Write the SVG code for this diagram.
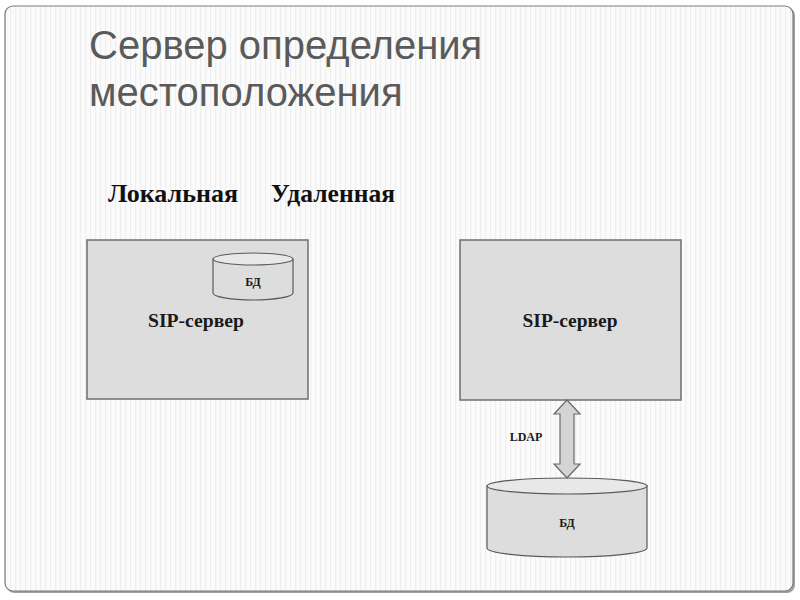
<svg xmlns="http://www.w3.org/2000/svg" width="800" height="600" viewBox="0 0 800 600">
  <defs>
    <pattern id="stripes" x="0" y="0" width="5" height="10" patternUnits="userSpaceOnUse">
      <rect width="5" height="10" fill="#fbfbfb"/>
      <rect x="0" width="1.2" height="10" fill="#efefef"/>
    </pattern>
    <style>
      .title { font-family: "Liberation Sans", Arial, sans-serif; font-size: 40px; fill: #5a5a5a; }
      .head { font-family: "Liberation Serif", "Times New Roman", serif; font-weight: bold; font-size: 25px; fill: #111; }
      .lbl { font-family: "Liberation Serif", "Times New Roman", serif; font-weight: bold; fill: #1a1a1a; text-anchor: middle; }
      .box { fill: #dddddd; stroke: #6e6e6e; stroke-width: 1.5; }
      .cyl { fill: #dddddd; stroke: #5a5a5a; stroke-width: 1.2; }
      .cyltop { fill: #e8e8e8; stroke: #5a5a5a; stroke-width: 1.2; }
    </style>
  </defs>
  <rect width="800" height="600" fill="#ffffff"/>
  <rect x="6.5" y="7.5" width="788.5" height="585.5" rx="8" fill="#a0a0a0"/>
  <rect x="5" y="6" width="788" height="585" rx="8" fill="url(#stripes)" stroke="#7a7a7a" stroke-width="1.2"/>

  <text class="title" x="89" y="59">Сервер определения</text>
  <text class="title" x="89" y="106">местоположения</text>

  <text class="head" x="108" y="202" textLength="130" lengthAdjust="spacingAndGlyphs">Локальная</text>
  <text class="head" x="271" y="202" textLength="124" lengthAdjust="spacingAndGlyphs">Удаленная</text>

  <g id="local-server">
    <rect class="box" x="87" y="240" width="221" height="159"/>
    <text class="lbl" x="196" y="327" font-size="18" textLength="96" lengthAdjust="spacingAndGlyphs">SIP-сервер</text>
  </g>
  <g id="local-db">
    <path class="cyl" d="M213,259 L213,293 A40,7 0 0 0 293,293 L293,259 Z"/>
    <ellipse class="cyltop" cx="253" cy="259" rx="40" ry="6"/>
    <text class="lbl" x="253" y="286" font-size="12">БД</text>
  </g>

  <g id="remote-server">
    <rect class="box" x="460" y="240" width="221" height="160"/>
    <text class="lbl" x="570" y="327" font-size="18" textLength="95" lengthAdjust="spacingAndGlyphs">SIP-сервер</text>
  </g>

  <g id="remote-db">
    <path class="cyl" d="M487,486 L487,548 A80,9 0 0 0 647,548 L647,486 Z"/>
    <ellipse class="cyltop" cx="567" cy="486" rx="80" ry="8"/>
    <text class="lbl" x="567" y="527" font-size="12">БД</text>
  </g>

  <g id="connectors">
    <path d="M567,400 L580,414 L574,414 L574,464 L580,464 L567,478 L554,464 L560,464 L560,414 L554,414 Z" fill="#d4d4d4" stroke="#6a6a6a" stroke-width="1.2"/>
    <text class="lbl" x="526" y="441" font-size="12">LDAP</text>
  </g>
</svg>
